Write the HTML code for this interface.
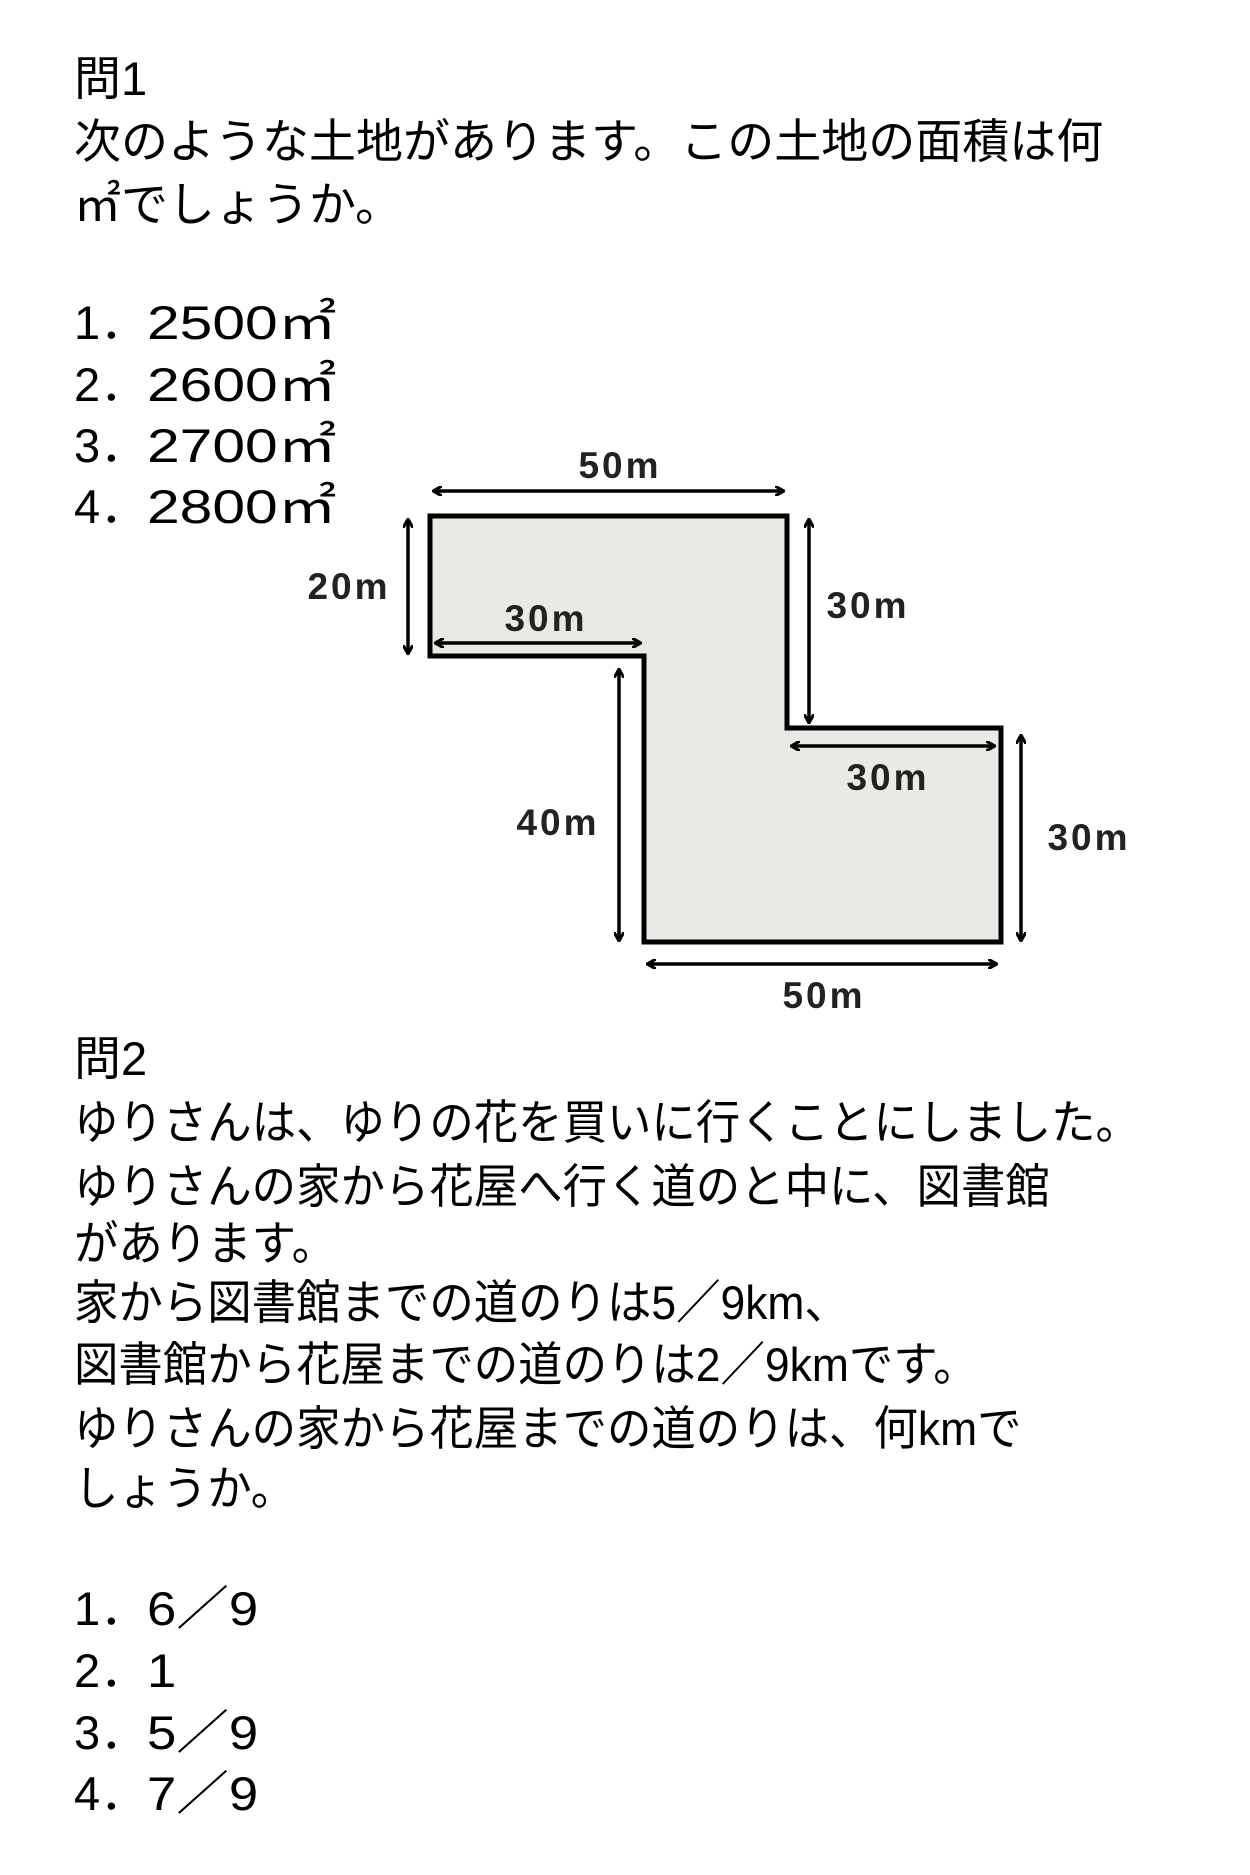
<!DOCTYPE html>
<html><head><meta charset="utf-8"><style>
html,body{margin:0;padding:0;background:#fff}
body{width:1250px;height:1875px;position:relative;overflow:hidden;font-family:"Liberation Sans","Noto Sans CJK JP",sans-serif;color:#000}
.t{position:absolute;left:74px;font-size:47px;line-height:47px;white-space:nowrap}
.q{transform:scaleX(0.945);transform-origin:left}
.n{display:inline-block;transform:scaleX(1.25);transform-origin:left}
.f{display:inline-block;transform:scaleX(1.12);transform-origin:left}
</style></head><body>
<div class="t" style="top:55px">問1</div>
<div class="t" style="top:118px">次のような土地があります。この土地の面積は何</div>
<div class="t" style="top:181px">㎡でしょうか。</div>
<div class="t" style="top:299px">1．<span class="n">2500㎡</span></div>
<div class="t" style="top:361px">2．<span class="n">2600㎡</span></div>
<div class="t" style="top:422px">3．<span class="n">2700㎡</span></div>
<div class="t" style="top:483px">4．<span class="n">2800㎡</span></div>

<svg style="position:absolute;left:0;top:0" width="1250" height="1875">
<defs><marker id="a" markerWidth="10" markerHeight="10" refX="8" refY="5" orient="auto-start-reverse" markerUnits="userSpaceOnUse"><path d="M0,0 L9,5 L0,10" fill="none" stroke="#000" stroke-width="3"/></marker></defs>
<polygon points="430,516 787,516 787,728 1001,728 1001,942 644,942 644,656 430,656" fill="#ebe9e3" stroke="#000" stroke-width="5"/>
<g stroke="#000" stroke-width="3.5" marker-start="url(#a)" marker-end="url(#a)">
<line x1="434" y1="491" x2="783" y2="491"/>
<line x1="408" y1="520" x2="408" y2="653"/>
<line x1="436" y1="643" x2="640" y2="643"/>
<line x1="809" y1="520" x2="809" y2="722"/>
<line x1="792" y1="746" x2="994" y2="746"/>
<line x1="619" y1="670" x2="619" y2="940"/>
<line x1="1021" y1="736" x2="1021" y2="940"/>
<line x1="648" y1="964" x2="996" y2="964"/>
</g>
<g font-family="Liberation Sans, sans-serif" font-weight="bold" font-size="37" letter-spacing="3" text-anchor="middle" fill="#222">
<text x="620" y="478">50m</text>
<text x="349" y="599">20m</text>
<text x="546" y="631">30m</text>
<text x="868" y="618">30m</text>
<text x="888" y="790">30m</text>
<text x="558" y="835">40m</text>
<text x="1089" y="850">30m</text>
<text x="824" y="1008">50m</text>
</g>
</svg>

<div class="t" style="top:1035px">問2</div>
<div class="t q" style="top:1099px">ゆりさんは、ゆりの花を買いに行くことにしました。</div>
<div class="t q" style="top:1163px">ゆりさんの家から花屋へ行く道のと中に、図書館</div>
<div class="t q" style="top:1220px">があります。</div>
<div class="t q" style="top:1279px">家から図書館までの道のりは5／9km、</div>
<div class="t q" style="top:1341px">図書館から花屋までの道のりは2／9kmです。</div>
<div class="t q" style="top:1405px">ゆりさんの家から花屋までの道のりは、何kmで</div>
<div class="t q" style="top:1465px">しょうか。</div>
<div class="t" style="top:1585px">1．<span class="f">6／9</span></div>
<div class="t" style="top:1647px">2．<span class="f">1</span></div>
<div class="t" style="top:1709px">3．<span class="f">5／9</span></div>
<div class="t" style="top:1770px">4．<span class="f">7／9</span></div>
</body></html>
